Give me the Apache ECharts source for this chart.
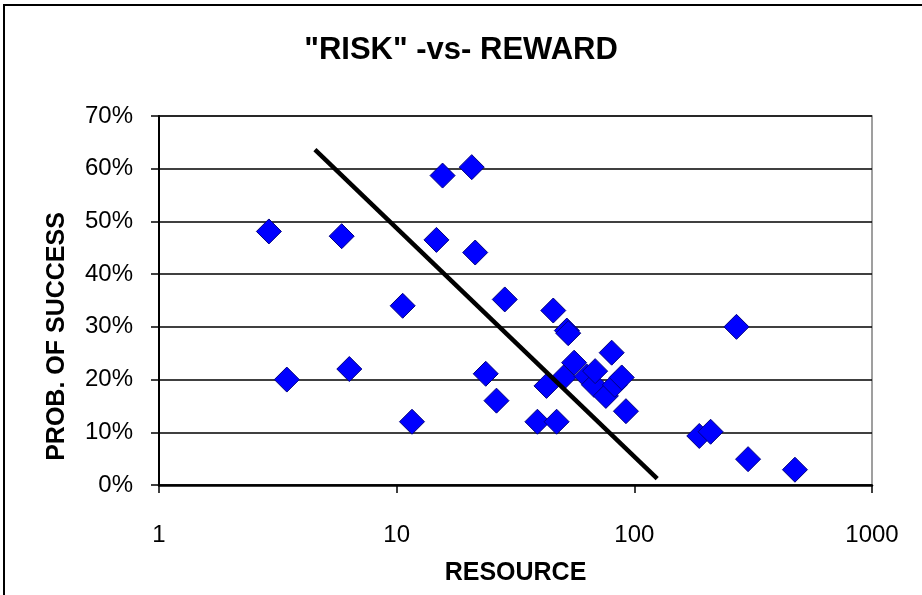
<!DOCTYPE html>
<html lang="en">
<head>
    <meta charset="UTF-8">
    <title>Risk vs Reward</title>
    <style type="text/css">
        html, body { margin: 0; padding: 0; background: #fff; }
        #chart { width: 922px; height: 595px; }
    </style>
    <script src="https://cdn.jsdelivr.net/npm/echarts@6/dist/echarts.min.js"></script>
</head>
<body>
<div id="chart"></div>
<script type="application/javascript">
    // resource (log scale) and probability of success (%)
    var resource = [2.9, 3.45, 5.87, 6.32, 10.6, 11.6, 14.7, 15.6, 20.7, 21.4,
        23.7, 26.3, 28.5, 39.1, 42.7, 45.6, 47.1, 50.4, 52, 52.7,
        55.8, 63, 67.6, 68.4, 75.9, 80.3, 82.8, 88.5, 92.2, 187.6,
        209.4, 269, 301, 474];
    var success = [48.1, 20.0, 47.2, 22.0, 34.0, 12.0, 46.5, 58.7, 60.3, 44.1,
        21.1, 16.0, 35.2, 12.0, 18.8, 33.1, 12.0, 20.4, 29.3, 28.8,
        23.2, 20.6, 19.0, 21.6, 16.9, 25.1, 19.0, 20.4, 14.0, 9.3,
        10.1, 30.0, 4.9, 2.9];

    // trend line end points
    var trendX = [4.53, 124.8];
    var trendY = [63.6, 1.2];

    var yTicks = [0, 10, 20, 30, 40, 50, 60, 70];

    var font = "'Liberation Sans', Arial, sans-serif";

    var points = [];
    for (var i = 0; i < resource.length; i++) {
        points.push([resource[i], success[i]]);
    }
    var trend = [];
    for (var j = 0; j < trendX.length; j++) {
        trend.push([trendX[j], trendY[j]]);
    }

    var chart = echarts.init(document.getElementById('chart'));
    var option = {
        backgroundColor: '#fff',
        animation: false,
        title: {
            text: '"RISK" -vs- REWARD',
            left: 'center',
            top: 30,
            textStyle: {
                fontFamily: font,
                fontSize: 31,
                fontWeight: 'bold',
                color: '#000'
            }
        },
        grid: {
            left: 159,
            top: 116,
            right: 50,
            bottom: 110,
            show: true,
            borderColor: '#808080',
            borderWidth: 1.5
        },
        graphic: [{
            type: 'rect',
            shape: { x: 4, y: 5, width: 1000, height: 700 },
            style: { fill: null, stroke: '#000', lineWidth: 2 },
            silent: true
        }],
        xAxis: {
            type: 'log',
            logBase: 10,
            min: 1,
            max: 1000,
            name: 'RESOURCE',
            nameLocation: 'middle',
            nameGap: 76,
            nameTextStyle: {
                fontFamily: font,
                fontSize: 25,
                fontWeight: 'bold',
                color: '#000'
            },
            axisLine: { lineStyle: { color: '#000', width: 2.5 } },
            axisTick: { inside: false, length: 8, lineStyle: { color: '#000', width: 1.5 } },
            axisLabel: {
                fontFamily: font,
                fontSize: 24,
                color: '#000',
                margin: 38,
                formatter: function (v) { return String(Math.round(v)); }
            },
            splitLine: { show: false },
            minorTick: { show: false }
        },
        yAxis: {
            type: 'value',
            min: yTicks[0],
            max: yTicks[yTicks.length - 1],
            interval: 10,
            name: 'PROB. OF SUCCESS',
            nameLocation: 'middle',
            nameGap: 89,
            nameTextStyle: {
                fontFamily: font,
                fontSize: 25,
                fontWeight: 'bold',
                color: '#000',
                padding: [0, 72, 0, 0]
            },
            axisLine: { show: true, lineStyle: { color: '#000', width: 2 } },
            axisTick: { show: true, inside: false, length: 8, lineStyle: { color: '#000', width: 1.5 } },
            axisLabel: {
                fontFamily: font,
                fontSize: 24,
                color: '#000',
                margin: 26,
                formatter: '{value}%'
            },
            splitLine: { show: true, lineStyle: { color: '#000', width: 1.5 } }
        },
        series: [
            {
                name: 'projects',
                type: 'scatter',
                symbol: 'diamond',
                symbolSize: 25,
                itemStyle: {
                    color: '#0000ff',
                    borderColor: '#000080',
                    borderWidth: 1,
                    opacity: 1
                },
                data: points,
                z: 2
            },
            {
                name: 'trend',
                type: 'line',
                symbol: 'none',
                lineStyle: { color: '#000', width: 4.5 },
                data: trend,
                z: 3
            }
        ]
    };
    chart.setOption(option);
</script>
</body>
</html>
